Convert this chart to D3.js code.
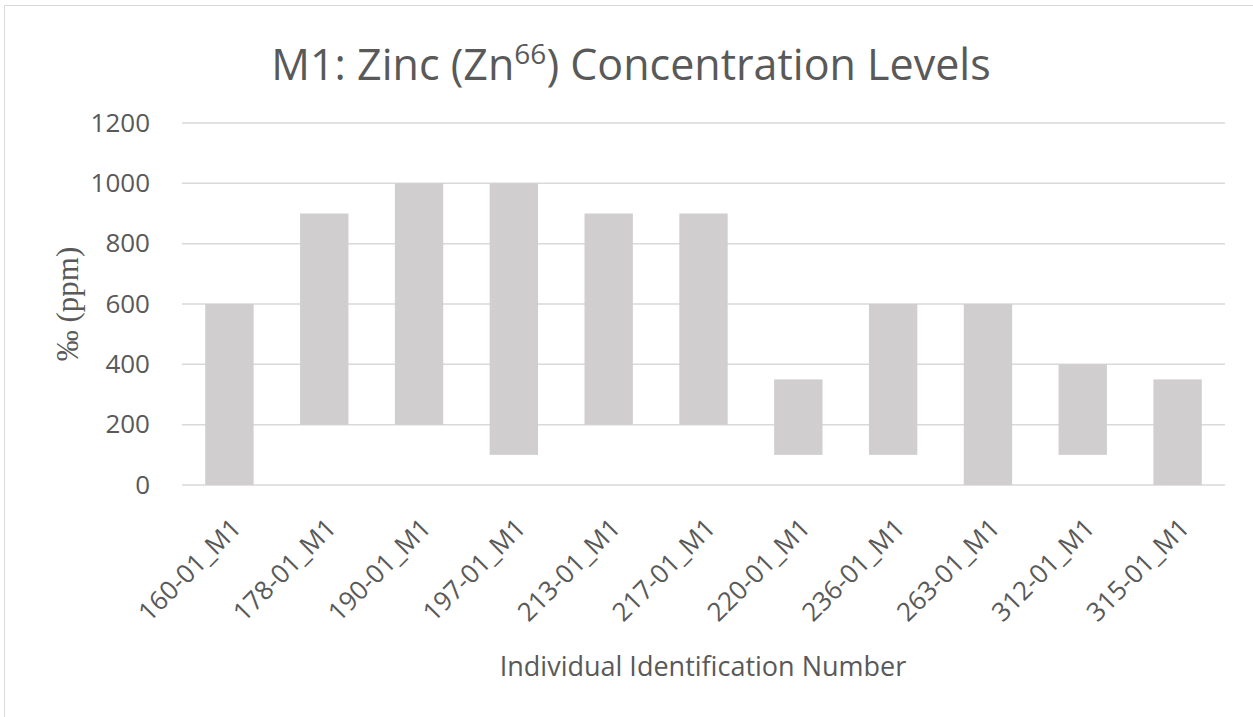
<!DOCTYPE html>
<html>
<head>
<meta charset="utf-8">
<script src="https://cdn.jsdelivr.net/npm/d3@7"></script>
<style>
  body { margin: 0; background: #fff; }
  svg { display: block; }
</style>
</head>
<body>
<svg id="chart"></svg>
<script>
const categories = ["160-01_M1", "178-01_M1", "190-01_M1", "197-01_M1", "213-01_M1", "217-01_M1",
  "220-01_M1", "236-01_M1", "263-01_M1", "312-01_M1", "315-01_M1"];
const lowValues = [0, 200, 200, 100, 200, 200, 100, 100, 0, 100, 0];
const highValues = [600, 900, 1000, 1000, 900, 900, 350, 600, 600, 400, 350];
const yTicks = [0, 200, 400, 600, 800, 1000, 1200];

const width = 1253, height = 717;
const margin = { top: 123, right: 28, bottom: 232, left: 182 };

const svg = d3.select("#chart").attr("width", width).attr("height", height);

// chart border
svg.append("rect")
  .attr("x", 4.5).attr("y", 5.5)
  .attr("width", width + 10).attr("height", height + 10)
  .attr("fill", "none").attr("stroke", "#d9d9d9").attr("stroke-width", 1);

const x = d3.scaleBand()
  .domain(categories)
  .range([margin.left, width - margin.right])
  .paddingInner(0.49).paddingOuter(0.245);

const y = d3.scaleLinear()
  .domain([0, 1200])
  .range([height - margin.bottom, margin.top]);

// gridlines
svg.append("g")
  .selectAll("line")
  .data(yTicks)
  .join("line")
  .attr("x1", margin.left).attr("x2", width - margin.right)
  .attr("y1", d => y(d)).attr("y2", d => y(d))
  .attr("stroke", "#d9d9d9").attr("stroke-width", 1.5);

// floating bars
svg.append("g")
  .selectAll("rect")
  .data(categories)
  .join("rect")
  .attr("x", d => x(d))
  .attr("width", x.bandwidth())
  .attr("y", (d, i) => y(highValues[i]))
  .attr("height", (d, i) => y(lowValues[i]) - y(highValues[i]))
  .attr("fill", "#d0cece");

// y axis labels
const yAxis = d3.axisLeft(y).tickValues(yTicks).tickFormat(d3.format("d")).tickSize(0).tickPadding(0);
svg.append("g")
  .attr("transform", `translate(${margin.left - 32},0)`)
  .call(yAxis)
  .call(g => g.select(".domain").remove())
  .selectAll("text")
  .attr("font-family", "Open Sans, sans-serif")
  .attr("font-size", 26)
  .attr("fill", "#595959");

// x axis labels
const xAxis = d3.axisBottom(x).tickSize(0).tickPadding(0);
svg.append("g")
  .attr("transform", `translate(0,${height - margin.bottom})`)
  .call(xAxis)
  .call(g => g.select(".domain").remove())
  .selectAll("text")
  .attr("font-family", "Open Sans, sans-serif")
  .attr("font-size", 26)
  .attr("fill", "#595959")
  .attr("text-anchor", "end")
  .attr("dy", "0.35em")
  .attr("transform", "translate(7,38) rotate(-45)");

// title
const title = svg.append("text")
  .attr("x", 631).attr("y", 80)
  .attr("text-anchor", "middle")
  .attr("font-family", "Open Sans, sans-serif")
  .attr("font-size", 43)
  .attr("fill", "#595959");
title.append("tspan").text("M1: Zinc (Zn");
title.append("tspan").attr("dy", -16).attr("font-size", 28).text("66");
title.append("tspan").attr("dy", 16).text(") Concentration Levels");

// axis titles
svg.append("text")
  .attr("transform", `translate(78,${(y(0) + y(1200)) / 2}) rotate(-90)`)
  .attr("text-anchor", "middle")
  .attr("font-family", "Liberation Serif, serif")
  .attr("font-size", 31)
  .attr("fill", "#595959")
  .text("‰ (ppm)");

svg.append("text")
  .attr("x", 703).attr("y", 676)
  .attr("text-anchor", "middle")
  .attr("font-family", "Open Sans, sans-serif")
  .attr("font-size", 27)
  .attr("fill", "#595959")
  .text("Individual Identification Number");
</script>
</body>
</html>
